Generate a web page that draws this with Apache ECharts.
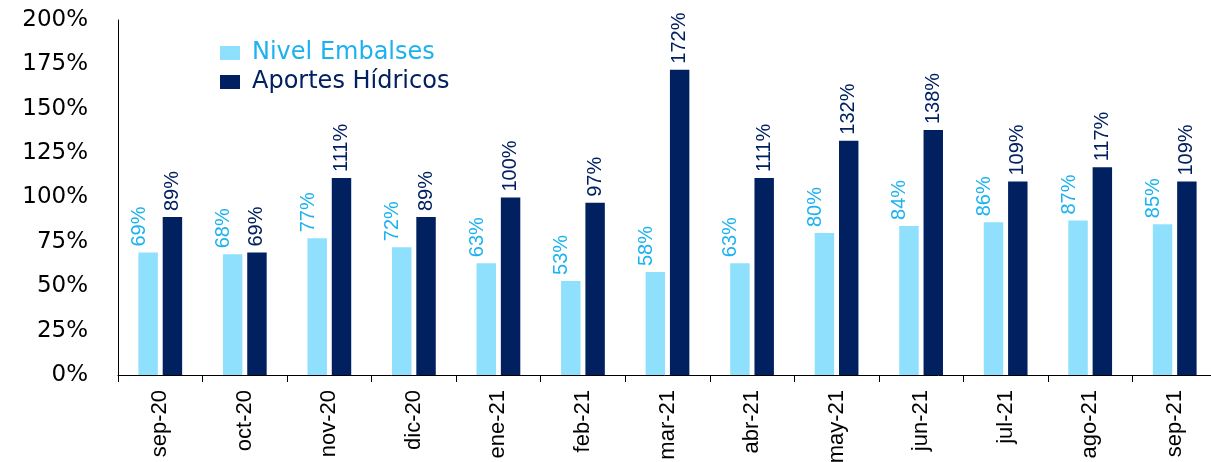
<!DOCTYPE html>
<html>
<head>
<meta charset="utf-8">
<script src="https://cdn.jsdelivr.net/npm/echarts@6/dist/echarts.min.js"></script>
<style>
  html,body{margin:0;padding:0;background:#fff;}
  #main{width:1211px;height:462px;}
</style>
</head>
<body>
<div id="main"></div>
<script>
// datos
var months = ['sep-20','oct-20','nov-20','dic-20','ene-21','feb-21','mar-21','abr-21','may-21','jun-21','jul-21','ago-21','sep-21']
var nivelEmbalses = [69,68,77,72,63,53,58,63,80,84,86,87,85]
var aportesHidricos = [89,69,111,89,100,97,172,111,132,138,109,117,109]

var lightBlue = '#8FE0FD'
var lightText = '#1CB2EF'
var navy = '#002060'

var myChart = echarts.init(document.getElementById('main'))
myChart.setOption({
  animation:false,
  textStyle:{fontFamily:'Liberation Sans'},
  grid:{left:118,top:20,width:1099,bottom:87,outerBoundsMode:'none',containLabel:false},
  legend:{
    orient:'vertical',
    left:215,
    top:36,
    icon:'rect',
    itemWidth:20,
    itemHeight:14,
    itemGap:5,
    data:[
      {name:'Nivel Embalses',textStyle:{color:lightText}},
      {name:'Aportes Hídricos',textStyle:{color:navy}}
    ],
    textStyle:{fontSize:24,fontFamily:'DejaVu Sans',padding:[0,0,0,7]}
  },
  xAxis:{
    type:'category',
    data:months,
    axisLine:{lineStyle:{color:'#000',width:1}},
    axisTick:{show:true,length:7,lineStyle:{color:'#000'}},
    axisLabel:{rotate:90,fontSize:22,color:'#000',margin:15}
  },
  yAxis:{
    type:'value',
    min:0,
    max:200,
    interval:25,
    splitLine:{show:false},
    axisLine:{show:true,lineStyle:{color:'#000',width:1}},
    axisTick:{show:false},
    axisLabel:{formatter:'{value}%',fontSize:23,color:'#000',margin:30,fontFamily:'DejaVu Sans'}
  },
  series:[
    {
      name:'Nivel Embalses',
      type:'bar',
      data:nivelEmbalses,
      barWidth:'23%',
      barGap:'25%',
      itemStyle:{color:lightBlue},
      label:{show:true,position:'top',rotate:90,align:'left',verticalAlign:'middle',distance:6,
        offset:[0,-9],formatter:'{c}%',fontSize:20,color:lightText}
    },
    {
      name:'Aportes Hídricos',
      type:'bar',
      data:aportesHidricos,
      barWidth:'23%',
      itemStyle:{color:navy},
      label:{show:true,position:'top',rotate:90,align:'left',verticalAlign:'middle',distance:6,
        formatter:'{c}%',fontSize:20,color:navy}
    }
  ]
})
</script>
</body>
</html>
